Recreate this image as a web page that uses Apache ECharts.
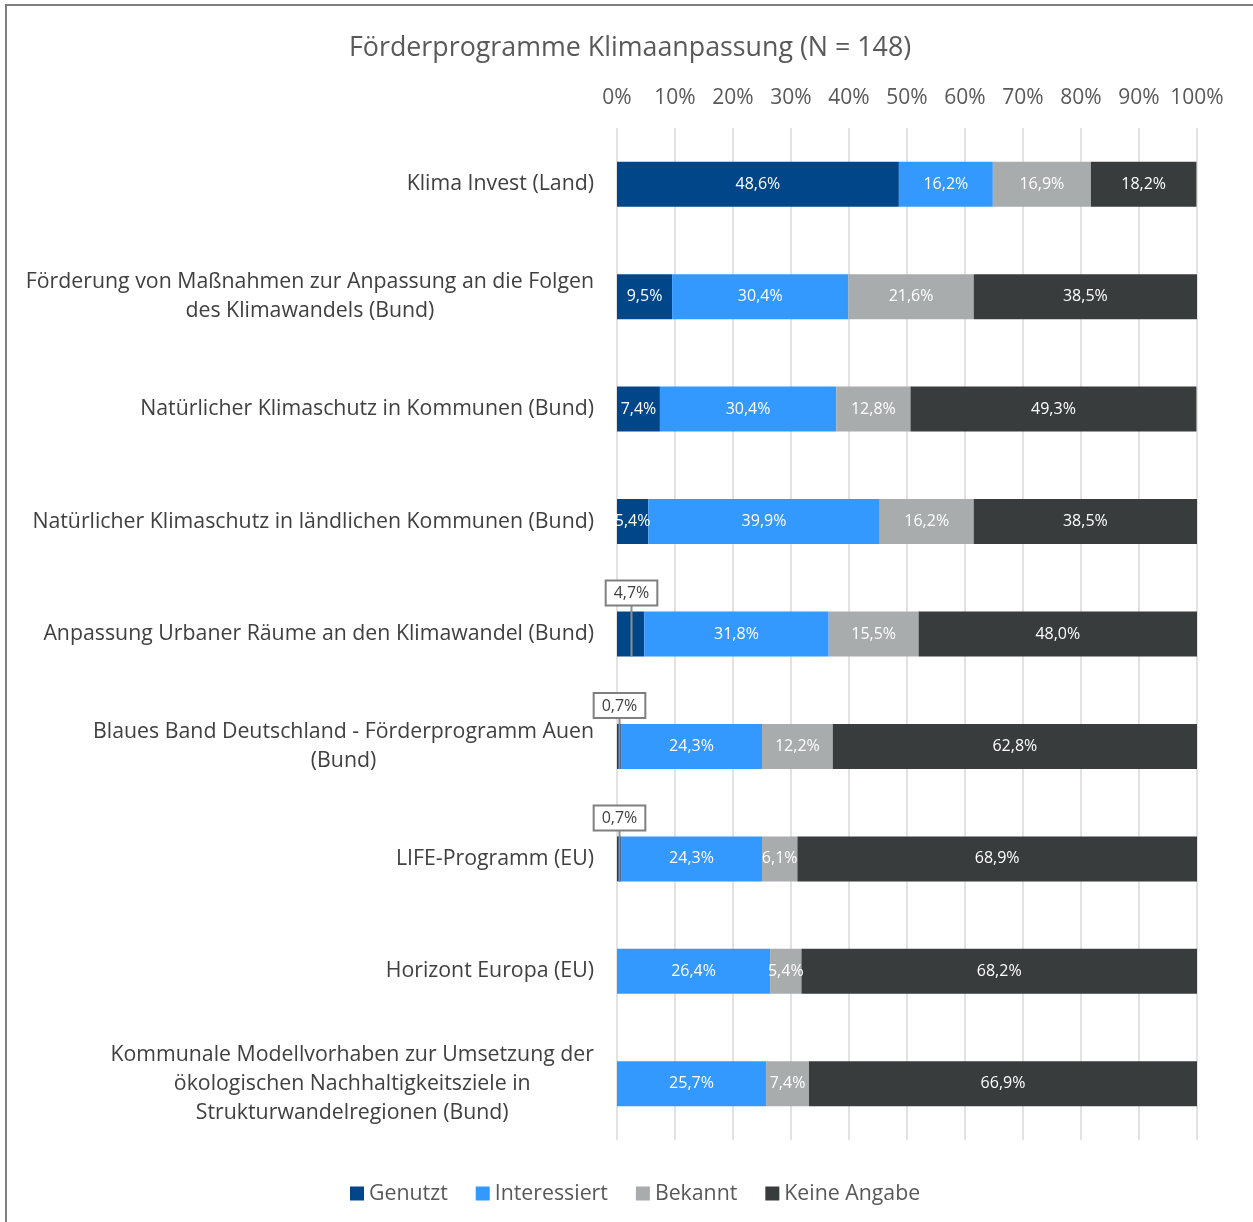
<!DOCTYPE html>
<html>
<head>
<meta charset="utf-8">
<script src="https://cdn.jsdelivr.net/npm/echarts@6/dist/echarts.min.js"></script>
<style>
  html, body { margin: 0; padding: 0; background: #ffffff; }
  #chart { width: 1253px; height: 1222px; }
</style>
</head>
<body>
<div id="chart"></div>
<script>
var categories = [
  'Klima Invest (Land)',
  'Förderung von Maßnahmen zur Anpassung an die Folgen\ndes Klimawandels (Bund)',
  'Natürlicher Klimaschutz in Kommunen (Bund)',
  'Natürlicher Klimaschutz in ländlichen Kommunen (Bund)',
  'Anpassung Urbaner Räume an den Klimawandel (Bund)',
  'Blaues Band Deutschland - Förderprogramm Auen\n(Bund)',
  'LIFE-Programm (EU)',
  'Horizont Europa (EU)',
  'Kommunale Modellvorhaben zur Umsetzung der\nökologischen Nachhaltigkeitsziele in\nStrukturwandelregionen (Bund)'
];
var genutzt      = [48.6, 9.5, 7.4, 5.4, 4.7, 0.7, 0.7, 0, 0];
var interessiert = [16.2, 30.4, 30.4, 39.9, 31.8, 24.3, 24.3, 26.4, 25.7];
var bekannt      = [16.9, 21.6, 12.8, 16.2, 15.5, 12.2, 6.1, 5.4, 7.4];
var keineAngabe  = [18.2, 38.5, 49.3, 38.5, 48.0, 62.8, 68.9, 68.2, 66.9];
var seriesNames = ['Genutzt', 'Interessiert', 'Bekannt', 'Keine Angabe'];
var xTicks = [0, 10, 20, 30, 40, 50, 60, 70, 80, 90, 100];
var titleText = 'Förderprogramme Klimaanpassung (N = 148)';

var colors = ['#02468a', '#3399ff', '#a9acad', '#383c3d'];
var FONT = '"Open Sans", "Noto Sans", sans-serif';
var BAR_H = 45;

function fmt(v) { return v.toFixed(1).replace('.', ',') + '%'; }

var chart = echarts.init(document.getElementById('chart'), null, { renderer: 'canvas' });

function barSeries(name, data, idx, inlineLabel) {
  return {
    name: name,
    type: 'bar',
    stack: 'total',
    barWidth: BAR_H,
    itemStyle: { color: colors[idx] },
    label: {
      show: true,
      position: 'inside',
      color: '#ffffff',
      fontFamily: FONT,
      fontSize: 16,
      formatter: function (p) {
        if (!inlineLabel(p.value)) return '';
        return fmt(p.value);
      }
    },
    emphasis: { disabled: true },
    data: data
  };
}

// callout points for very small "Genutzt" values
var calloutData = [];
genutzt.forEach(function (v, i) {
  if (v > 0 && v < 5) calloutData.push([v, i]);
});

var option = {
  backgroundColor: '#ffffff',
  animation: false,
  title: {
    text: titleText,
    left: 344,
    top: 30,
    textStyle: { fontFamily: FONT, fontSize: 26.8, fontWeight: 'normal', color: '#595959' }
  },
  legend: {
    bottom: 13,
    left: 345,
    icon: 'rect',
    itemWidth: 14,
    itemHeight: 14,
    itemGap: 28,
    textStyle: { fontFamily: FONT, fontSize: 21.3, color: '#595959' },
    data: seriesNames
  },
  graphic: [{
    type: 'rect',
    shape: { x: 6, y: 5, width: 1300, height: 1300 },
    style: { fill: 'none', stroke: '#7f7f7f', lineWidth: 2 },
    silent: true,
    z: -10
  }],
  grid: { left: 617, right: 56, top: 128, bottom: 82, containLabel: false },
  xAxis: {
    type: 'value',
    position: 'top',
    min: 0,
    max: 100,
    interval: 10,
    axisLine: { show: false },
    axisTick: { show: false },
    splitLine: { show: true, lineStyle: { color: '#d9d9d9', width: 1.5 } },
    axisLabel: {
      margin: 19,
      fontFamily: FONT,
      fontSize: 21,
      color: '#595959',
      formatter: function (v) { return xTicks.indexOf(v) >= 0 ? v + '%' : ''; }
    }
  },
  yAxis: {
    type: 'category',
    inverse: true,
    data: categories,
    axisLine: { show: false },
    axisTick: { show: false },
    splitLine: { show: false },
    axisLabel: {
      margin: 23,
      align: 'right',
      fontFamily: FONT,
      fontSize: 21.3,
      color: '#404040',
      lineHeight: 29,
      formatter: function (v) {
        return v.split('\n').map(function (l) { return '{c|' + l + '}'; }).join('\n');
      },
      rich: {
        c: { align: 'center', fontFamily: FONT, fontSize: 21.3, color: '#404040', lineHeight: 29 }
      }
    }
  },
  series: [
    barSeries('Genutzt', genutzt, 0, function (v) { return v >= 5; }),
    barSeries('Interessiert', interessiert, 1, function (v) { return v > 0; }),
    barSeries('Bekannt', bekannt, 2, function (v) { return v > 0; }),
    barSeries('Keine Angabe', keineAngabe, 3, function (v) { return v > 0; }),
    {
      type: 'custom',
      name: 'callout',
      silent: true,
      z: 10,
      encode: { x: 0, y: 1 },
      data: calloutData,
      renderItem: function (params, api) {
        var v = api.value(0);
        var c = api.value(1);
        var pt = api.coord([v / 2, c]);
        var x = Math.round(pt[0]) + 0.5;
        var top = pt[1] - BAR_H / 2;
        var bottom = pt[1] + BAR_H / 2;
        return {
          type: 'group',
          children: [
            {
              type: 'line',
              shape: { x1: x, y1: top - 8, x2: x, y2: bottom },
              style: { stroke: '#8c8c8c', lineWidth: 2 }
            },
            {
              type: 'text',
              style: {
                text: fmt(v),
                x: x,
                y: top - 7,
                align: 'center',
                verticalAlign: 'bottom',
                fontFamily: FONT,
                fontSize: 16,
                fill: '#404040',
                backgroundColor: '#ffffff',
                borderColor: '#7f7f7f',
                borderWidth: 2,
                padding: [4, 7, 3, 7]
              }
            }
          ]
        };
      }
    }
  ]
};
chart.setOption(option);
</script>
</body>
</html>
